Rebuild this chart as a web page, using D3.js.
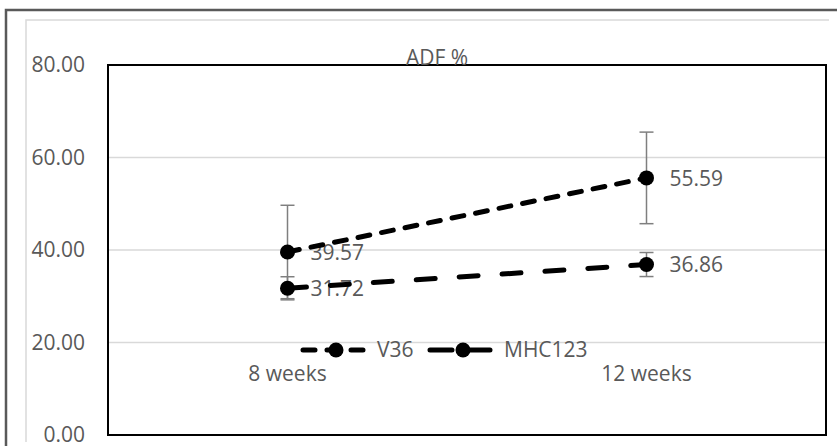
<!DOCTYPE html>
<html><head><meta charset="utf-8">
<script src="https://cdn.jsdelivr.net/npm/d3@7"></script>
<style>body{margin:0;background:#fff}svg{display:block;font-family:"Open Sans",sans-serif}</style>
</head><body><svg id="c" width="837" height="446"></svg>
<script>
const title = "ADF %";
const categories = ["8 weeks", "12 weeks"];
const seriesNames = ["V36", "MHC123"];
const v36 = [39.57, 55.59];
const v36Err = [10.1, 9.9];
const mhc123 = [31.72, 36.86];
const mhc123Err = [2.5, 2.6];
const yTicks = [0, 20, 40, 60, 80];

const series = [
  {name: seriesNames[0], values: v36, err: v36Err, dash: "12,12"},
  {name: seriesNames[1], values: mhc123, err: mhc123Err, dash: "19,24"}
];

const svg = d3.select("#c");
const L = 108, R = 826, T = 65, B = 435;
const txt = "#595959";

// outer frames
svg.append("path").attr("d", "M6,446 V10 H837").attr("fill", "none").attr("stroke", "#595959").attr("stroke-width", 2.5);
svg.append("path").attr("d", "M26,442 V20 H829").attr("fill", "none").attr("stroke", "#d9d9d9").attr("stroke-width", 1.5);

const x = d3.scaleBand().domain(categories).range([L, R]);
const y = d3.scaleLinear().domain([0, 80]).range([B, T]);
const cx = c => x(c) + x.bandwidth() / 2;

// gridlines
svg.append("g").selectAll("line").data(yTicks).join("line")
  .attr("x1", L).attr("x2", R).attr("y1", d => y(d)).attr("y2", d => y(d))
  .attr("stroke", "#d9d9d9").attr("stroke-width", 1.5);

// y axis labels
const yAxis = d3.axisLeft(y).tickValues(yTicks).tickFormat(d3.format(".2f")).tickSize(0).tickPadding(0);
const gy = svg.append("g").attr("transform", "translate(85,0)").call(yAxis);
gy.select(".domain").remove();
gy.selectAll("text").attr("fill", txt).style("font-size", "21px").style("font-family", "Open Sans, sans-serif");

// plot border
svg.append("rect").attr("x", L).attr("y", T).attr("width", R - L).attr("height", B - T)
  .attr("fill", "none").attr("stroke", "#000").attr("stroke-width", 2);

// title
svg.append("text").attr("x", 437).attr("y", 59).attr("text-anchor", "middle").attr("dominant-baseline", "middle")
  .attr("fill", txt).style("font-size", "21px").text(title);

// category labels
svg.append("g").selectAll("text").data(categories).join("text")
  .attr("x", d => cx(d)).attr("y", 375).attr("text-anchor", "middle").attr("dominant-baseline", "middle")
  .attr("fill", txt).style("font-size", "21px").text(d => d);

// data labels
series.forEach(s => {
  svg.append("g").selectAll("text").data(categories).join("text")
    .attr("x", d => cx(d) + 23).attr("y", (d, i) => y(s.values[i]) + 2)
    .attr("dominant-baseline", "middle").attr("fill", txt).style("font-size", "21px")
    .text((d, i) => s.values[i].toFixed(2));
});

// error bars
series.forEach(s => {
  const g = svg.append("g").attr("stroke", "#7f7f7f").attr("stroke-width", 1.5);
  categories.forEach((c, i) => {
    const px = cx(c), hi = y(s.values[i] + s.err[i]), lo = y(s.values[i] - s.err[i]);
    g.append("line").attr("x1", px).attr("x2", px).attr("y1", hi).attr("y2", lo);
    g.append("line").attr("x1", px - 7).attr("x2", px + 7).attr("y1", hi).attr("y2", hi);
    g.append("line").attr("x1", px - 7).attr("x2", px + 7).attr("y1", lo).attr("y2", lo);
  });
});

// lines + markers
const line = d3.line().x((d, i) => cx(categories[i])).y(d => y(d));
series.forEach(s => {
  svg.append("path").datum(s.values).attr("d", line).attr("fill", "none")
    .attr("stroke", "#000").attr("stroke-width", 5).attr("stroke-linecap", "round")
    .attr("stroke-dasharray", s.dash);
  svg.append("g").selectAll("circle").data(s.values).join("circle")
    .attr("cx", (d, i) => cx(categories[i])).attr("cy", d => y(d)).attr("r", 7.5).attr("fill", "#000");
});

// legend
const legX = [301, 428];
series.forEach((s, i) => {
  const lx = legX[i], ly = 350;
  svg.append("line").attr("x1", lx + 2).attr("x2", lx + 64).attr("y1", ly).attr("y2", ly)
    .attr("stroke", "#000").attr("stroke-width", 5).attr("stroke-linecap", "round")
    .attr("stroke-dasharray", i === 0 ? "12,12" : "22,16");
  svg.append("circle").attr("cx", lx + 35).attr("cy", ly).attr("r", 7.5).attr("fill", "#000");
  svg.append("text").attr("x", lx + 76).attr("y", ly + 1).attr("dominant-baseline", "middle")
    .attr("fill", txt).style("font-size", "21px").text(s.name);
});
</script></body></html>
